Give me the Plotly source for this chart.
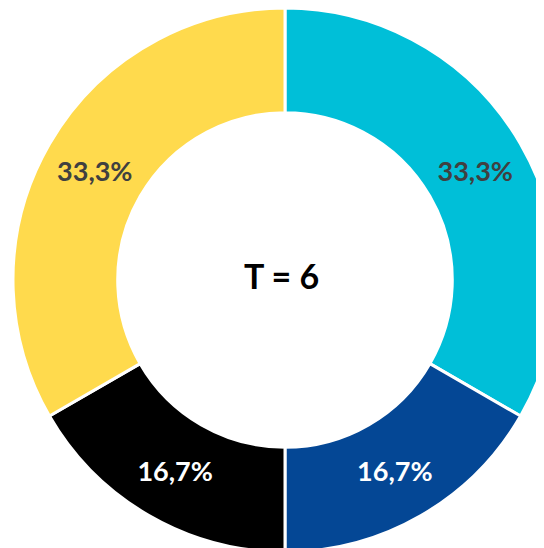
import plotly.graph_objects as go

# datos
categorias = ["Grupo A", "Grupo B", "Grupo C", "Grupo D"]
valores = [2, 1, 1, 2]
colores = ["#00BFD8", "#044795", "#000000", "#FFDA4D"]
color_texto = ["#404040", "#FFFFFF", "#FFFFFF", "#404040"]
total = sum(valores)

fig = go.Figure()
fig.add_trace(go.Pie(
    labels=categorias,
    values=valores,
    hole=0.615,
    sort=False,
    direction="clockwise",
    rotation=0,
    marker=dict(colors=colores, line=dict(color="white", width=3)),
    texttemplate="%{percent:.1%}",
    textposition="inside",
    insidetextorientation="horizontal",
    insidetextfont=dict(family="Lato", size=27, color=color_texto, weight="bold"),
    showlegend=False,
    domain=dict(x=[0, 1], y=[0, 1]),
))

# total en el centro del donut
fig.add_annotation(
    text=f"<b>T = {total}</b>", x=0.494, y=0.509, xref="paper", yref="paper",
    showarrow=False, font=dict(family="Lato", size=34, color="black"),
)

# el donut queda un poco recortado por la derecha y por abajo
fig.update_layout(
    width=554, height=544,
    margin=dict(l=0, r=0, t=0, b=0),
    paper_bgcolor="white",
    separators=",.",
)

fig.write_html("out.html")
